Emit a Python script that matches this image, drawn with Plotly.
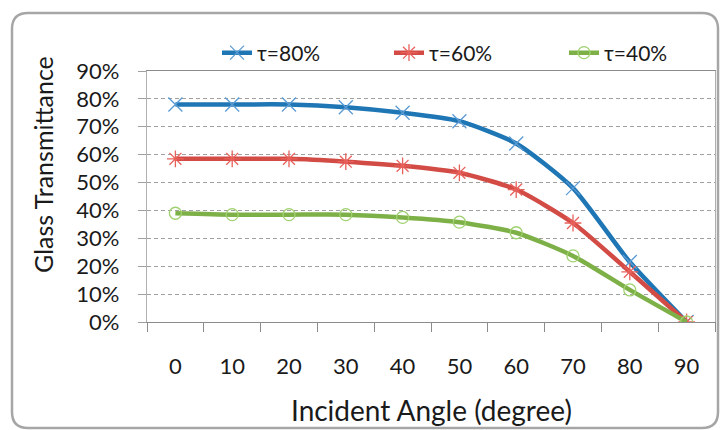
import plotly.graph_objects as go

# Incident angle categories (degrees)
angles = ["0", "10", "20", "30", "40", "50", "60", "70", "80", "90"]

# Glass transmittance versus incident angle for three normal-incidence values
t80 = [0.78, 0.78, 0.78, 0.77, 0.75, 0.72, 0.64, 0.48, 0.215, 0.0]
t60 = [0.585, 0.585, 0.585, 0.575, 0.56, 0.535, 0.475, 0.355, 0.18, 0.0]
t40 = [0.39, 0.385, 0.385, 0.385, 0.375, 0.358, 0.32, 0.237, 0.115, 0.0]

series = [
    ("τ=80%", t80, "#1f76b4", "#5b9bd5", "x-thin-open", 14, "legend"),
    ("τ=60%", t60, "#d34b45", "#e8605a", "asterisk-open", 14, "legend2"),
    ("τ=40%", t40, "#7eb048", "#9fd16e", "circle-open", 12, "legend3"),
]

FONT = "Lato, Calibri, Carlito, sans-serif"

fig = go.Figure()
for name, vals, lc, mc, sym, sz, leg in series:
    fig.add_trace(go.Scatter(
        x=angles, y=vals, name=name, mode="lines+markers", legend=leg,
        line=dict(color=lc, width=4.5, shape="spline", smoothing=0.6),
        marker=dict(symbol=sym, size=sz, color=mc,
                    line=dict(color=mc, width=1.3)),
    ))

W, H = 720, 430
L, R, T, B = 147, 5, 71, 108
pw, ph = W - L - R, H - T - B


def px(x):
    return (x - L) / pw


def py(y):
    return (H - B - y) / ph


# rounded outer frame around the chart
x0, x1, y0, y1, r = 12, 718, 13, 428, 16
path = (
    f"M {px(x0 + r)},{py(y0)} L {px(x1 - r)},{py(y0)} "
    f"Q {px(x1)},{py(y0)} {px(x1)},{py(y0 + r)} "
    f"L {px(x1)},{py(y1 - r)} Q {px(x1)},{py(y1)} {px(x1 - r)},{py(y1)} "
    f"L {px(x0 + r)},{py(y1)} Q {px(x0)},{py(y1)} {px(x0)},{py(y1 - r)} "
    f"L {px(x0)},{py(y0 + r)} Q {px(x0)},{py(y0)} {px(x0 + r)},{py(y0)} Z"
)
fig.add_shape(type="path", path=path, xref="paper", yref="paper",
              line=dict(color="#a6a6a6", width=2.5), layer="below")

fig.add_annotation(text="Incident Angle (degree)", xref="paper", yref="paper",
                   x=px(431), y=py(410), xanchor="center", yanchor="middle",
                   showarrow=False,
                   font=dict(family=FONT, size=28, color="#1a1a1a"))
fig.add_annotation(text="Glass Transmittance", xref="paper", yref="paper",
                   x=px(43), y=py(165), xanchor="center", yanchor="middle",
                   showarrow=False, textangle=-90,
                   font=dict(family=FONT, size=25, color="#1a1a1a"))

legend_common = dict(orientation="h", xanchor="left", yanchor="middle",
                     y=py(53), font=dict(size=21),
                     bgcolor="rgba(0,0,0,0)")

fig.update_layout(
    width=W, height=H,
    margin=dict(l=L, r=R, t=T, b=B),
    paper_bgcolor="white", plot_bgcolor="white",
    font=dict(family=FONT, size=22, color="#1a1a1a"),
    legend=dict(x=px(217), **legend_common),
    legend2=dict(x=px(389), **legend_common),
    legend3=dict(x=px(564), **legend_common),
    showlegend=True,
)
fig.update_xaxes(
    type="category", range=[-0.5, 9.5],
    showline=True, linecolor="#8c8c8c", linewidth=1.2, mirror=True,
    ticks="outside", ticklen=9, tickcolor="#8c8c8c", tickson="boundaries",
    showgrid=False, ticklabelstandoff=24,
)
fig.update_yaxes(
    range=[0, 0.9], dtick=0.1, tickformat=".0%",
    showline=True, linecolor="#b0b0b0", linewidth=1.2, mirror=True,
    ticks="outside", ticklen=8, tickcolor="#a0a0a0",
    showgrid=True, gridcolor="#a0a0a0", griddash="4px,3px", gridwidth=1,
    zeroline=False, ticklabelstandoff=14,
)

fig.write_html("out.html")
